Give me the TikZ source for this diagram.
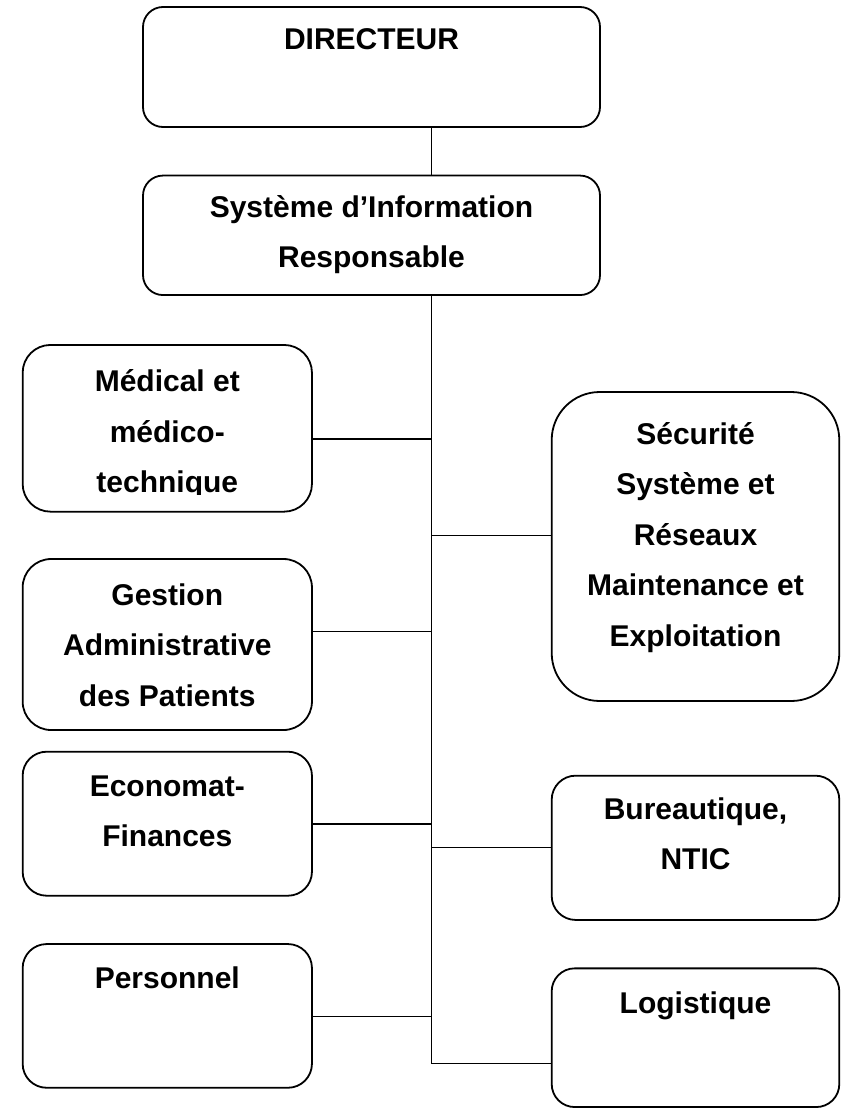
\documentclass[tikz,border=0pt]{standalone}
\usepackage{fontspec}
\setmainfont{Liberation Sans}
\begin{document}
\begin{tikzpicture}[x=1pt,y=-1pt,
  box/.style={draw, line width=1.8pt, inner sep=0pt},
  lbl/.style={anchor=north, yshift=35.35pt, align=center, inner sep=0pt,
              font=\fontsize{30}{50.5}\selectfont\bfseries},
  wire/.style={line width=1.4pt}]
\useasboundingbox (0,0) rectangle (843,1109);
% boxes
\node[box, minimum width=457pt, minimum height=120pt, rounded corners=20pt] (dir) at (371.5,67) {};
\node[box, minimum width=457pt, minimum height=119.5pt, rounded corners=20pt] (sys) at (371.5,235.3) {};
\node[box, minimum width=289.3pt, minimum height=166.7pt, rounded corners=27.8pt] (med) at (167.3,428.3) {};
\node[box, minimum width=289.3pt, minimum height=171pt, rounded corners=28.5pt] (ges) at (167.3,644.5) {};
\node[box, minimum width=289.3pt, minimum height=144pt, rounded corners=24pt] (eco) at (167.3,823.7) {};
\node[box, minimum width=289.3pt, minimum height=143.7pt, rounded corners=24pt] (per) at (167.3,1015.9) {};
\node[box, minimum width=287.6pt, minimum height=309pt, rounded corners=48pt] (sec) at (695.5,546.5) {};
\node[box, minimum width=287.6pt, minimum height=144.3pt, rounded corners=24pt] (bur) at (695.5,847.8) {};
\node[box, minimum width=287.6pt, minimum height=138.7pt, rounded corners=23pt] (log) at (695.5,1037.7) {};
% texts
\node[lbl] (tdir) at (371.5,49.3) {\strut DIRECTEUR};
\node[lbl] (tsys) at (371.5,217) {\strut Système d’Information\\\strut Responsable};
\begin{scope}
\clip (med.north west) rectangle (med.east |- 0,494);
\node[lbl] (tmed) at (167.3,391.5) {\strut Médical et\\\strut médico-\\\strut technique};
\end{scope}
\node[lbl] (tges) at (167.3,605) {\strut Gestion\\\strut Administrative\\\strut des Patients};
\node[lbl] (teco) at (167.3,796) {\strut Economat-\\\strut Finances};
\node[lbl] (tper) at (167.3,988) {\strut Personnel};
\node[lbl] (tsec) at (695.5,444) {\strut Sécurité\\\strut Système et\\\strut Réseaux\\\strut Maintenance et\\\strut Exploitation};
\node[lbl] (tbur) at (695.5,819) {\strut Bureautique,\\\strut NTIC};
\node[lbl] (tlog) at (695.5,1013.5) {\strut Logistique};
% junctions on the trunk
\coordinate (jm) at (431.7,439);
\coordinate (js) at (431.7,535.7);
\coordinate (jg) at (431.7,631.7);
\coordinate (je) at (431.7,823.8);
\coordinate (jb) at (431.7,847.7);
\coordinate (jp) at (431.7,1016.2);
\coordinate (jl) at (431.7,1063.2);
% connectors
\draw[wire] (dir.south -| jm) -- (sys.north -| jm);
\draw[wire] (sys.south -| jl) -- (jl) -- (jl -| log.west);
\draw[wire] (jm) -- (jm -| med.east);
\draw[wire] (jg) -- (jg -| ges.east);
\draw[wire] (je) -- (je -| eco.east);
\draw[wire] (jp) -- (jp -| per.east);
\draw[wire] (js) -- (js -| sec.west);
\draw[wire] (jb) -- (jb -| bur.west);
\end{tikzpicture}
\end{document}
